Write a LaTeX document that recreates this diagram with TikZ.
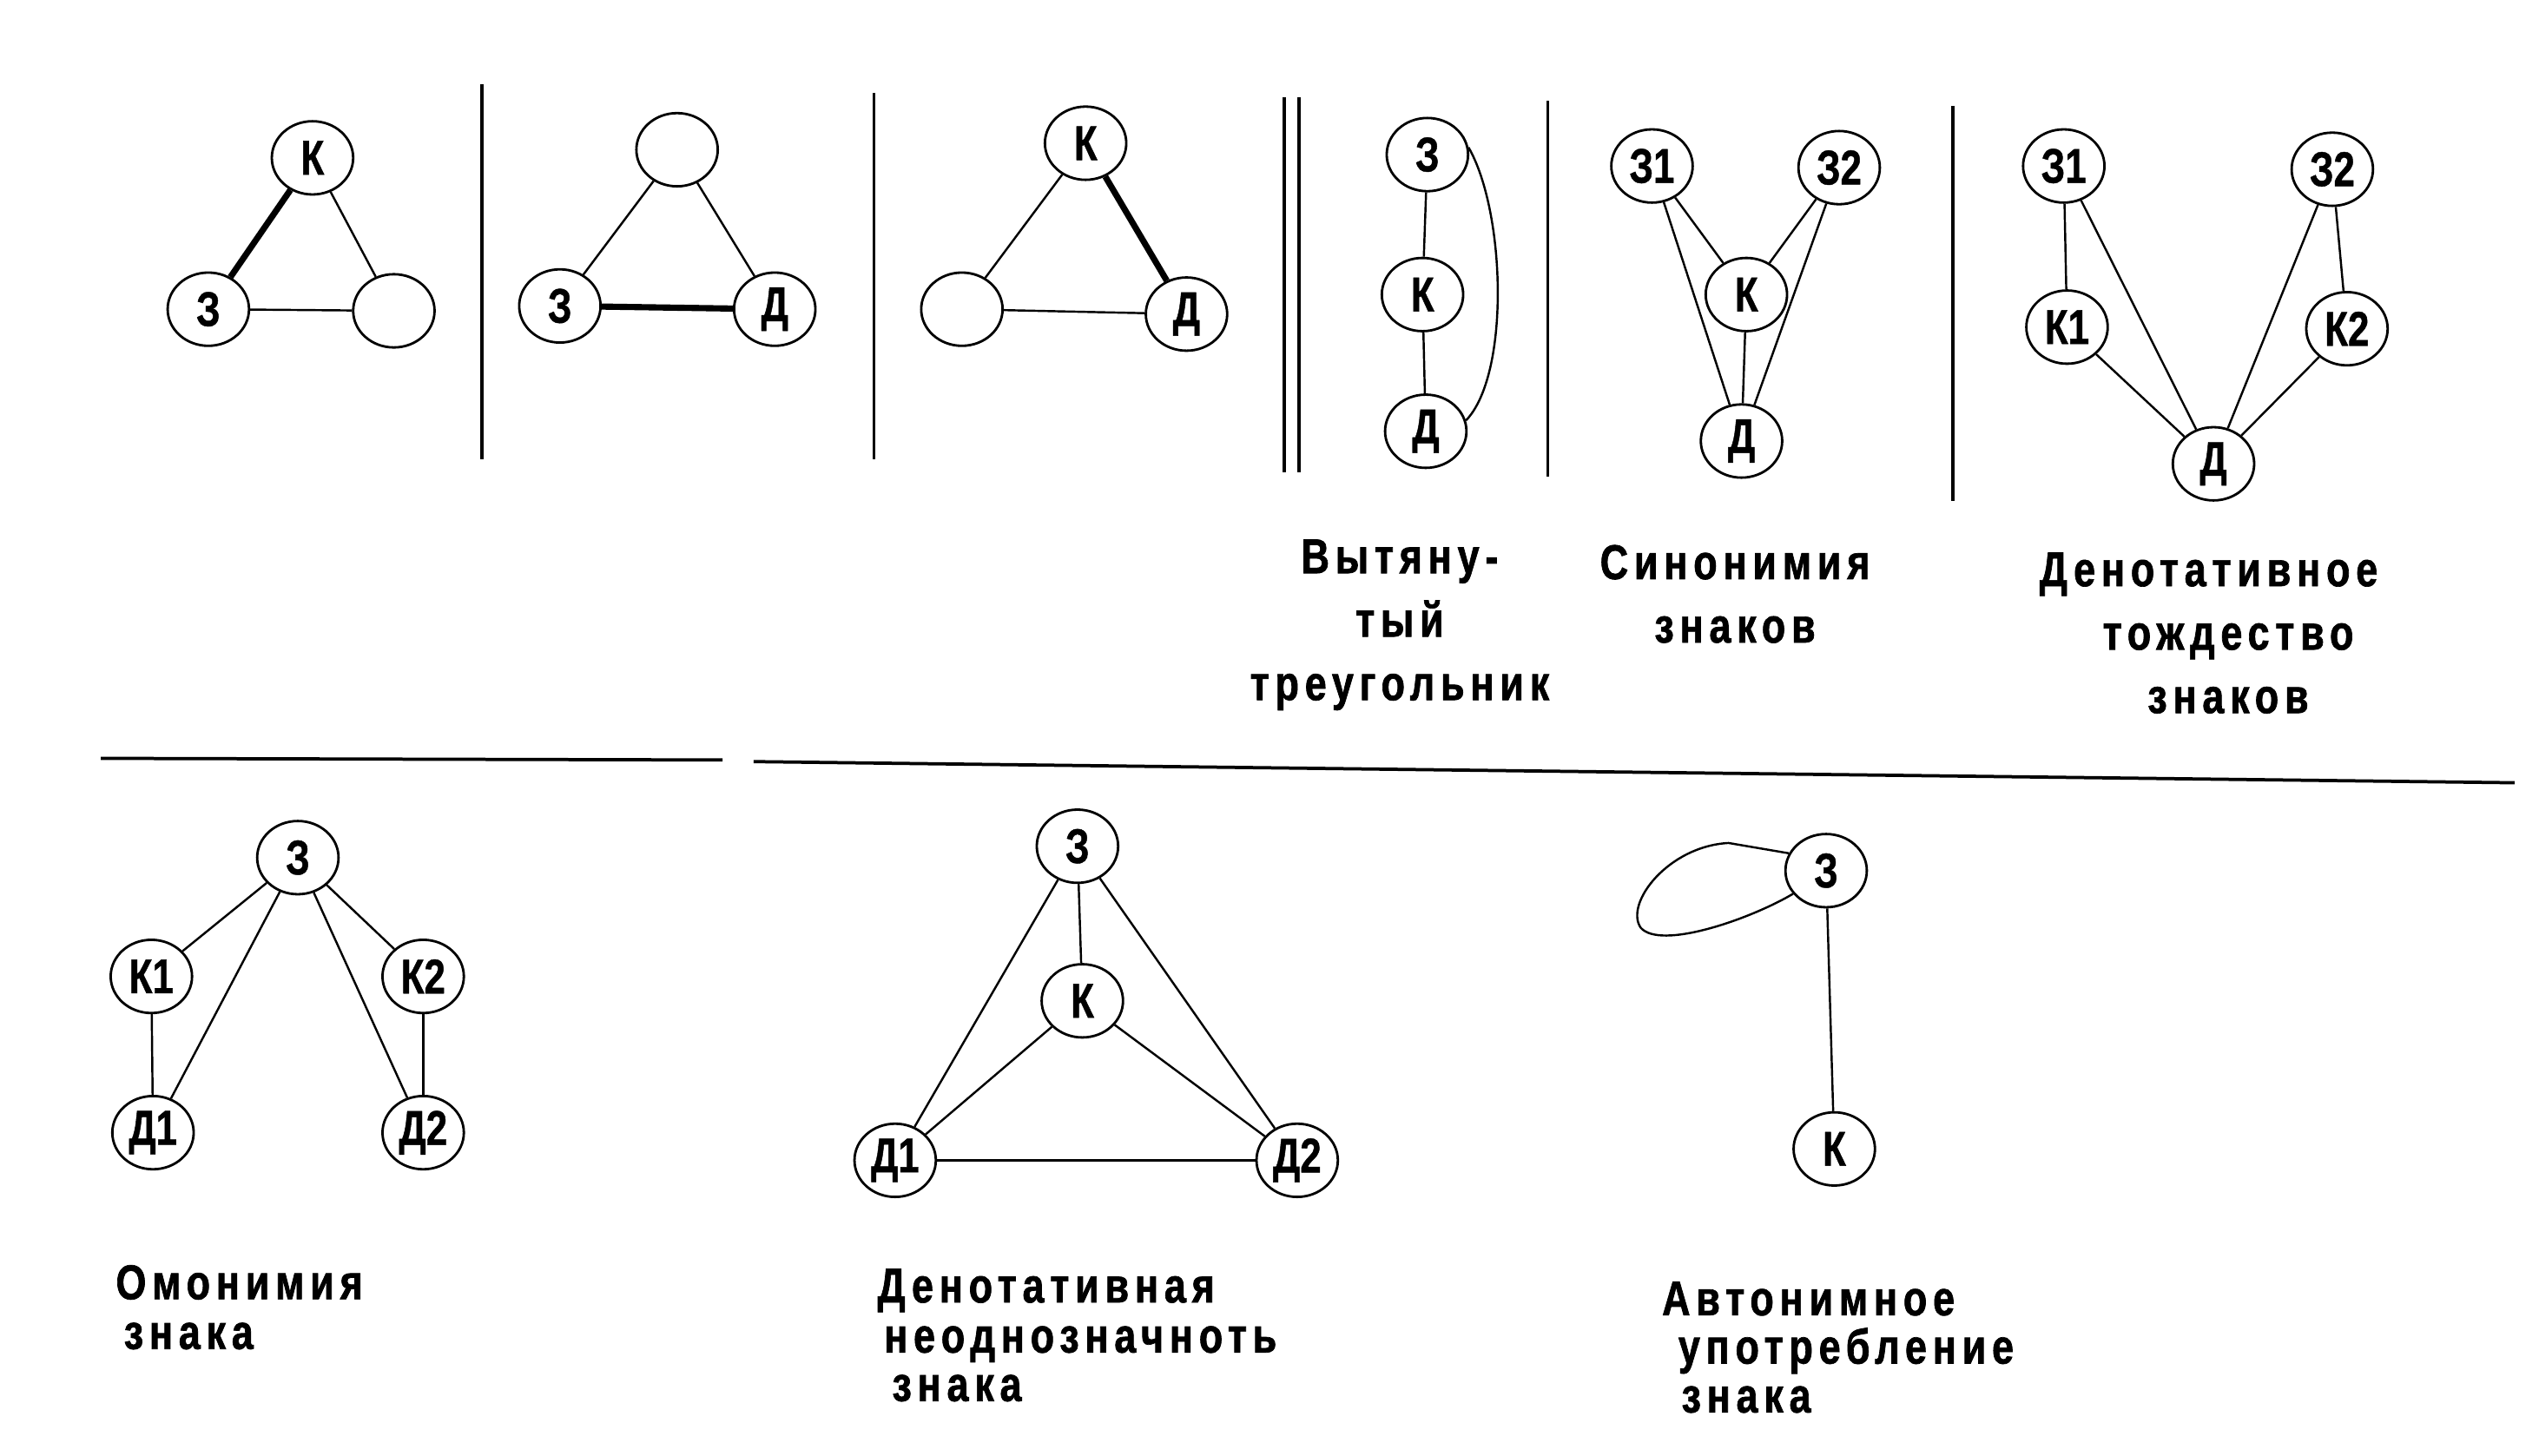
\documentclass[tikz,border=0pt]{standalone}
\usepackage{fontspec}
\setmainfont{Liberation Sans}
\newfontfamily\nodefont[FakeStretch=0.78,BoldFeatures={FakeBold=0.8}]{Liberation Sans}
\newfontfamily\labfont[FakeStretch=0.8,LetterSpace=12,BoldFeatures={FakeBold=1.2}]{Liberation Sans}
\usetikzlibrary{shapes.geometric}
\tikzset{
  nd/.style={draw, ellipse, line width=1.5pt, minimum width=50pt, minimum height=45pt, inner sep=0pt,
    font=\nodefont\bfseries\fontsize{30}{30}\selectfont},
  ln/.style={line width=1.3pt},
  thk/.style={line width=3.8pt},
  dv/.style={line width=2pt},
  lab/.style={font=\labfont\bfseries\fontsize{30}{30}\selectfont, inner sep=0pt, align=center},
  labl/.style={font=\labfont\bfseries\fontsize{30}{30}\selectfont, inner sep=0pt, anchor=west}
}
\begin{document}
\begin{tikzpicture}[x=1pt,y=-1pt]
\useasboundingbox[fill=white] (0,0) rectangle (1560,894.2);
% dividers
\draw[dv] (296,52) -- (296,282);
\draw[dv] (537,57) -- (537,282);
\draw[dv] (789,60) -- (789,290);
\draw[dv] (798,60) -- (798,290);
\draw[dv] (951,62) -- (951,293);
\draw[dv] (1200,65) -- (1200,308);
\draw[dv] (62,466) -- (444,467);
\draw[dv] (463,468) -- (1545,481);
% panel 1
\node[nd] (k1) at (192,97) {К};
\node[nd] (z1) at (128,190) {З};
\node[nd] (e1) at (242,191) {};
\draw[thk] (k1) -- (z1);
\draw[ln] (k1) -- (e1);
\draw[ln] (z1) -- (e1);
% panel 2
\node[nd] (e2) at (416,92) {};
\node[nd] (z2) at (344,188) {З};
\node[nd] (d2) at (476,190) {Д};
\draw[ln] (e2) -- (z2);
\draw[ln] (e2) -- (d2);
\draw[thk] (z2) -- (d2);
% panel 3
\node[nd] (k3) at (667,88) {К};
\node[nd] (e3) at (591,190) {};
\node[nd] (d3) at (729,193) {Д};
\draw[thk] (k3) -- (d3);
\draw[ln] (k3) -- (e3);
\draw[ln] (e3) -- (d3);
% panel 4
\node[nd] (z4) at (877,95) {З};
\node[nd] (k4) at (874,181) {К};
\node[nd] (d4) at (876,265) {Д};
\draw[ln] (z4) -- (k4);
\draw[ln] (k4) -- (d4);
\draw[ln] (z4.10) .. controls (925,130) and (928,230) .. (d4.15);
\node[lab] (t4) at (860,384) {Вытяну-\\[9pt]тый\\[9pt]треугольник};
% panel 5
\node[nd] (za5) at (1015,102) {З1};
\node[nd] (zb5) at (1130,103) {З2};
\node[nd] (k5) at (1073,181) {К};
\node[nd] (d5) at (1070,271) {Д};
\draw[ln] (za5) -- (k5);
\draw[ln] (zb5) -- (k5);
\draw[ln] (k5) -- (d5);
\draw[ln] (za5) -- (d5);
\draw[ln] (zb5) -- (d5);
\node[lab] (t5) at (1066,365) {Синонимия\\[9pt]знаков};
% panel 6
\node[nd] (za6) at (1268,102) {З1};
\node[nd] (zb6) at (1433,104) {З2};
\node[nd] (ka6) at (1270,201) {К1};
\node[nd] (kb6) at (1442,202) {К2};
\node[nd] (d6) at (1360,285) {Д};
\draw[ln] (za6) -- (ka6);
\draw[ln] (za6) -- (d6);
\draw[ln] (ka6) -- (d6);
\draw[ln] (zb6) -- (kb6);
\draw[ln] (zb6) -- (d6);
\draw[ln] (kb6) -- (d6);
\node[lab] (t6) at (1357,389) {Денотативное\\[9pt]\hspace*{24pt}тождество\\[9pt]\hspace*{24pt}знаков};
% panel 7
\node[nd] (z7) at (183,527) {З};
\node[nd] (ka7) at (93,600) {К1};
\node[nd] (kb7) at (260,600) {К2};
\node[nd] (da7) at (94,696) {Д1};
\node[nd] (db7) at (260,696) {Д2};
\draw[ln] (z7) -- (ka7);
\draw[ln] (z7) -- (da7);
\draw[ln] (ka7) -- (da7);
\draw[ln] (z7) -- (kb7);
\draw[ln] (z7) -- (db7);
\draw[ln] (kb7) -- (db7);
\node[labl] (t7a) at (71,788) {Омонимия};
\node[labl] (t7b) at (76,821) {знака};
% panel 8
\node[nd] (z8) at (662,520) {З};
\node[nd] (k8) at (665,615) {К};
\node[nd] (da8) at (550,713) {Д1};
\node[nd] (db8) at (797,713) {Д2};
\draw[ln] (z8) -- (k8);
\draw[ln] (z8) -- (da8);
\draw[ln] (z8) -- (db8);
\draw[ln] (k8) -- (da8);
\draw[ln] (k8) -- (db8);
\draw[ln] (da8) -- (db8);
\node[labl] (t8a) at (539,793) {Денотативная};
\node[labl] (t8b) at (543,826) {неоднозначноть};
\node[labl] (t8c) at (548,853) {знака};
% panel 9
\node[nd] (z9) at (1122,535) {З};
\node[nd] (k9) at (1127,706) {К};
\draw[ln] (z9) -- (k9);
\draw[ln] (z9.155) -- (1062,518) .. controls (1025,520) and (998,555) .. (1008,570)
  .. controls (1020,584) and (1075,565) .. (z9.215);
\node[labl] (t9a) at (1021,798) {Автонимное};
\node[labl] (t9b) at (1031,830) {употребление};
\node[labl] (t9c) at (1033,860) {знака};
\end{tikzpicture}
\end{document}
